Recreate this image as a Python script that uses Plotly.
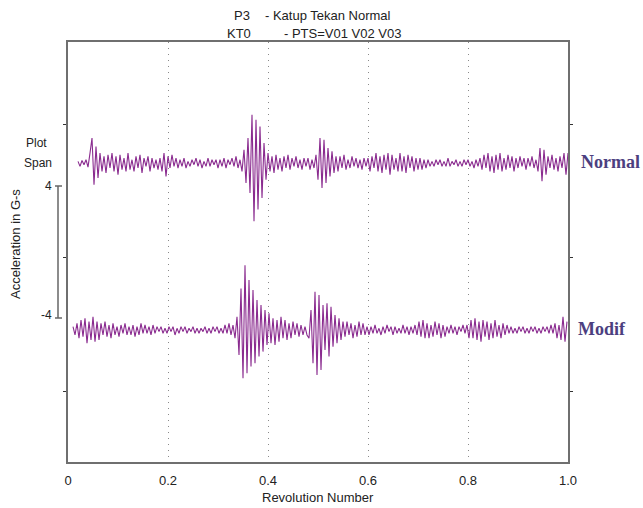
import numpy as np
import plotly.graph_objects as go

# ---- data (acceleration in G-s) ----
normal_values = [
    0.1, -0.2, 0.15, -0.1, 0.2, -0.25, 0.6, 1.5, -1.3, 1.0,
    -0.9, 0.6, -0.5, 0.4, -0.6, 0.5, -0.3, 0.6, -0.5, 0.4,
    -0.7, 0.5, -0.4, 0.3, -0.5, 0.6, -0.4, 0.2, -0.5, 0.4,
    -0.3, 0.5, -0.6, 0.3, -0.2, 0.4, -0.5, 0.3, -0.3, 0.2,
    -0.4, 0.3, -0.5, 0.6, -0.8, 0.4, -0.3, 0.5, -0.2, 0.3,
    -0.3, 0.2, -0.2, 0.3, -0.3, 0.1, -0.2, 0.2, -0.1, 0.3,
    -0.2, 0.2, -0.3, 0.1, -0.2, 0.3, -0.2, 0.2, -0.1, 0.2,
    -0.3, 0.2, -0.2, 0.3, -0.3, 0.2, -0.1, 0.3, -0.2, 0.4,
    -0.3, 0.2, -0.5, 0.8, -1.2, 1.5, -1.8, 2.9, -3.5, 2.6,
    -2.8, 2.2, -2.1, 1.2, -1.0, 0.6, -0.5, 0.4, -0.6, 0.5,
    -0.4, 0.3, -0.5, 0.4, -0.3, 0.5, -0.4, 0.3, -0.2, 0.4,
    -0.3, 0.2, -0.4, 0.3, -0.2, 0.3, -0.4, 0.2, -0.3, 0.5,
    -1.0, 1.5, -1.5, 1.4, -1.2, 0.9, -0.8, 0.7, -0.6, 0.4,
    -0.5, 0.4, -0.3, 0.5, -0.4, 0.2, -0.3, 0.4, -0.2, 0.3,
    -0.3, 0.2, -0.4, 0.3, -0.2, 0.3, -0.5, 0.4, -0.3, 0.6,
    -0.5, 0.4, -0.6, 0.5, -0.4, 0.6, -0.7, 0.5, -0.4, 0.3,
    -0.5, 0.6, -0.5, 0.4, -0.6, 0.5, -0.3, 0.4, -0.5, 0.3,
    -0.4, 0.3, -0.4, 0.2, -0.3, 0.2, -0.2, 0.1, -0.2, 0.2,
    -0.1, 0.2, -0.2, 0.1, -0.2, 0.3, -0.2, 0.1, -0.1, 0.2,
    -0.2, 0.1, -0.2, 0.2, -0.1, 0.2, -0.2, 0.1, -0.3, 0.2,
    -0.2, 0.3, -0.4, 0.5, -0.3, 0.6, -0.5, 0.4, -0.6, 0.5,
    -0.4, 0.6, -0.5, 0.3, -0.4, 0.5, -0.3, 0.4, -0.5, 0.3,
    -0.3, 0.4, -0.2, 0.3, -0.4, 0.3, -0.2, 0.4, -0.3, 0.2,
    -0.5, 0.9, -1.1, 0.8, -0.7, 0.4, -0.3, 0.5, -0.4, 0.3,
    -0.5, 0.4, -0.3, 0.6, -0.7, 0.6,
]

modif_values = [
    0.2, -0.3, 0.4, -0.5, 0.6, -0.4, 0.7, -0.8, 0.5, -0.6,
    0.8, -0.7, 0.5, -0.6, 0.4, -0.3, 0.5, -0.4, 0.3, -0.5,
    0.4, -0.3, 0.2, -0.4, 0.3, -0.2, 0.4, -0.3, 0.2, -0.3,
    0.3, -0.4, 0.2, -0.3, 0.4, -0.2, 0.3, -0.2, 0.2, -0.3,
    0.3, -0.2, 0.2, -0.1, 0.2, -0.2, 0.1, -0.2, 0.2, -0.1,
    0.2, -0.3, 0.1, -0.2, 0.2, -0.1, 0.2, -0.2, 0.1, -0.1,
    0.2, -0.2, 0.1, -0.2, 0.1, -0.1, 0.2, -0.2, 0.1, -0.2,
    0.2, -0.1, 0.2, -0.2, 0.1, -0.2, 0.3, -0.2, 0.4, -0.3,
    0.3, -0.5, 0.8, -1.5, 2.5, -2.9, 3.9, -2.6, 3.0, -2.2,
    2.4, -2.0, 1.8, -1.6, 1.5, -1.3, 1.2, -0.9, 1.0, -0.8,
    0.7, -0.9, 0.6, -0.7, 0.8, -0.5, 0.6, -0.6, 0.4, -0.5,
    0.5, -0.3, 0.4, -0.4, 0.3, -0.3, 0.2, -0.3, -0.5, 1.2,
    -2.0, 2.3, -2.7, 2.1, -2.4, 1.5, -1.2, 1.6, -1.6, 1.4,
    -1.0, 0.9, -0.8, 0.7, -0.6, 0.5, -0.4, 0.5, -0.3, 0.4,
    -0.5, 0.3, -0.4, 0.5, -0.3, 0.4, -0.3, 0.2, -0.3, 0.2,
    -0.2, 0.3, -0.2, 0.1, -0.3, 0.2, -0.2, 0.3, -0.1, 0.2,
    -0.3, 0.2, -0.2, 0.1, -0.2, 0.3, -0.2, 0.2, -0.3, 0.2,
    -0.2, 0.3, -0.3, 0.5, -0.4, 0.6, -0.5, 0.4, -0.5, 0.3,
    -0.4, 0.5, -0.3, 0.4, -0.5, 0.3, -0.4, 0.2, -0.2, 0.3,
    -0.2, 0.2, -0.3, 0.2, -0.1, 0.3, -0.2, 0.3, -0.5, 0.6,
    -0.5, 0.7, -0.6, 0.5, -0.7, 0.6, -0.4, 0.5, -0.6, 0.4,
    -0.5, 0.6, -0.4, 0.3, -0.5, 0.4, -0.3, 0.3, -0.2, 0.2,
    -0.2, 0.1, -0.2, 0.2, -0.1, 0.2, -0.2, 0.1, -0.2, 0.2,
    -0.1, 0.2, -0.2, 0.1, -0.2, 0.2, -0.1, 0.2, -0.2, 0.3,
    -0.2, 0.4, -0.5, 0.3, -0.6, 0.8, -0.7, 0.5,
]

normal_start, normal_end = 0.02, 1.0
modif_start, modif_end = 0.01, 0.998
normal_offset = 5.71     # vertical position of the "Normal" trace
modif_offset = -4.33     # vertical position of the "Modif" trace

x_ticks = [0, 0.2, 0.4, 0.6, 0.8, 1.0]
x_tick_labels = ["0", "0.2", "0.4", "0.6", "0.8", "1.0"]
y_ticks = [-8, 0, 8]

normal_x = np.linspace(normal_start, normal_end, len(normal_values))
modif_x = np.linspace(modif_start, modif_end, len(modif_values))
normal_y = np.array(normal_values) + normal_offset
modif_y = np.array(modif_values) + modif_offset

W, H = 643, 508
L, R, T, B = 68, 568, 42, 462   # plot box in screenshot pixels


def px(xp):
    return (xp - L) / (R - L)


def py(yp):
    return (B - yp) / (B - T)


trace_color = "#8a2b8f"
fig = go.Figure()
fig.add_trace(go.Scatter(x=normal_x, y=normal_y, mode="lines",
                         line=dict(color=trace_color, width=1.1),
                         showlegend=False, hoverinfo="skip"))
fig.add_trace(go.Scatter(x=modif_x, y=modif_y, mode="lines",
                         line=dict(color=trace_color, width=1.1),
                         showlegend=False, hoverinfo="skip"))

sans = "Liberation Sans, Arial, sans-serif"
txt = "#222222"
ann = []


def add_text(text, xp, yp, size=12, xanchor="center", font=sans, color=txt,
             bold=False, angle=0):
    ann.append(dict(text=("<b>%s</b>" % text) if bold else text,
                    x=px(xp), y=py(yp), xref="paper", yref="paper",
                    xanchor=xanchor, yanchor="middle", showarrow=False,
                    textangle=angle,
                    font=dict(family=font, size=size, color=color)))


# title
add_text("P3", 242, 15, size=13)
add_text("- Katup Tekan Normal", 263, 15, size=13, xanchor="left")
add_text("KT0", 239, 33, size=13)
add_text("- PTS=V01 V02 V03", 282, 33, size=13, xanchor="left")
# axis titles
add_text("Revolution Number", 318, 498, size=13)
add_text("Acceleration in G-s", 16, 244, size=13, angle=-90)
# plot span
add_text("Plot", 36, 143, size=12)
add_text("Span", 38, 163, size=12)
add_text("4", 54, 186, size=12, xanchor="right")
add_text("-4", 54, 315, size=12, xanchor="right")
# right labels
serif = "Liberation Serif, Times New Roman, serif"
add_text("Normal", 579, 162, size=18, xanchor="left", font=serif,
         color="#4c3f80", bold=True)
add_text("Modif", 576, 329, size=18, xanchor="left", font=serif,
         color="#4c3f80", bold=True)

shapes = []
bc = "#666666"
for (x0, y0, x1, y1) in [(58, 186, 58, 318), (55, 186, 62, 186), (55, 318, 62, 318)]:
    shapes.append(dict(type="line", xref="paper", yref="paper",
                       x0=px(x0), y0=py(y0), x1=px(x1), y1=py(y1),
                       line=dict(color=bc, width=1.5)))

fig.update_layout(
    width=W, height=H, autosize=False,
    margin=dict(l=L, r=W - R, t=T, b=H - B),
    paper_bgcolor="white", plot_bgcolor="white",
    annotations=ann, shapes=shapes,
    xaxis=dict(range=[0, 1], tickvals=x_ticks, ticktext=x_tick_labels,
               showline=True, mirror=True, linecolor="#6f6f6f", linewidth=1.5,
               showgrid=True, gridcolor="#8a8a8a", griddash="1px,5px", gridwidth=1,
               zeroline=False, ticks="", ticklabelstandoff=6,
               tickfont=dict(family=sans, size=13, color=txt)),
    yaxis=dict(range=[-12.27, 12.99], tickvals=y_ticks, showticklabels=False,
               ticks="outside", ticklen=3, tickcolor="#333333",
               showline=True, mirror="ticks", linecolor="#6f6f6f", linewidth=1.5,
               showgrid=False, zeroline=False),
)

fig.write_html(
    "out.html",
    config={"displayModeBar": False},
    post_script="document.body.style.margin='0';document.body.style.overflow='hidden';",
)
